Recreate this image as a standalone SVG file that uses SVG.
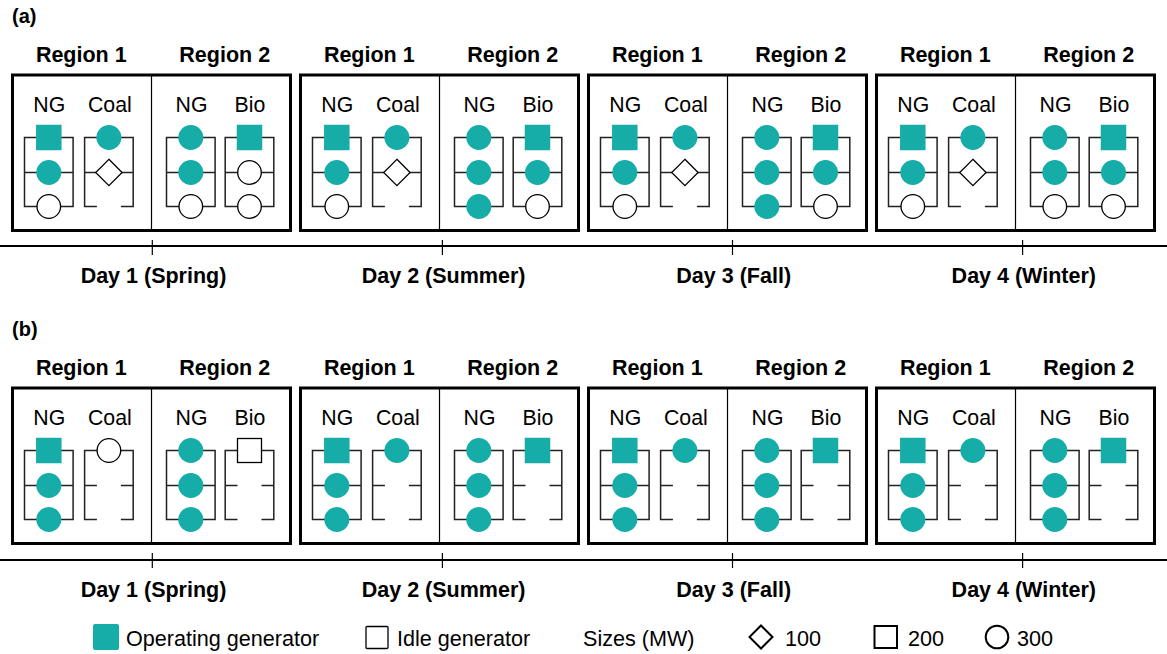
<svg xmlns="http://www.w3.org/2000/svg" width="1167" height="654" viewBox="0 0 1167 654">
<style>
text{font-family:"Liberation Sans",Arial,sans-serif;fill:#000}
.h{font-weight:bold;font-size:21.5px;text-anchor:middle}
.c{font-size:21.3px;text-anchor:middle}
.p{font-weight:bold;font-size:20px}
.l{font-size:21.6px}
.box{fill:none;stroke:#000;stroke-width:3}
.dv{stroke:#000;stroke-width:1.2}
.br{fill:none;stroke:#222;stroke-width:1.5}
.on{fill:#16aca8}
.off{fill:#fff;stroke:#000;stroke-width:1.3}
.tl{stroke:#000;stroke-width:2}
.tk{stroke:#000;stroke-width:1.2}
.lg{fill:#fff;stroke:#000;stroke-width:2}
</style>
<defs>
<path id="cf" d="M-24.3 206.5V137.5H24.3V206.5ZM-24.3 172.5H24.3"/>
<path id="ca" d="M-12 206.5H-24.3V137.5H24.3V206.5H12M-24.3 172.5H24.3"/>
<path id="cb" d="M-12 206.5H-24.3V137.5H24.3V206.5H12M-24.3 172.5H-12M12 172.5H24.3"/>
<rect id="sq" x="-12.75" y="-12.75" width="25.5" height="25.5"/>
<rect id="sqo" x="-12" y="-12" width="24" height="24"/>
<circle id="ci" r="12.5"/>
<circle id="co" r="11.8"/>
<polygon id="di" points="0,-13.2 13.2,0 0,13.2 -13.2,0"/>
</defs>

<rect width="1167" height="654" fill="#fff"/>

<!-- ===== Panel (a) ===== -->
<g id="panel-a">
<text class="p" x="12" y="22.5">(a)</text>

<g id="a-day1" transform="translate(12.5,0)">
<text class="h" x="68.8" y="62.3">Region 1</text><text class="h" x="212.2" y="62.3">Region 2</text>
<rect class="box" x="0" y="75" width="278" height="155.5"/><line class="dv" x1="139" y1="75" x2="139" y2="230.5"/>
<g id="a-d1-ng1" transform="translate(36.3,0)"><text class="c" x="0.5" y="111.7">NG</text><use href="#cf" class="br"/><use href="#sq" class="on" y="137.5"/><use href="#ci" class="on" y="172.5"/><use href="#co" class="off" y="206.5"/></g>
<g id="a-d1-coal" transform="translate(96.4,0)"><text class="c" x="1" y="111.7">Coal</text><use href="#ca" class="br"/><use href="#ci" class="on" y="137.5"/><use href="#di" class="off" y="172.5"/></g>
<g id="a-d1-ng2" transform="translate(178.3,0)"><text class="c" x="0.7" y="111.7">NG</text><use href="#cf" class="br"/><use href="#ci" class="on" y="137.5"/><use href="#ci" class="on" y="172.5"/><use href="#co" class="off" y="206.5"/></g>
<g id="a-d1-bio" transform="translate(237,0)"><text class="c" x="0.5" y="111.7">Bio</text><use href="#cf" class="br"/><use href="#sq" class="on" y="137.5"/><use href="#co" class="off" y="172.5"/><use href="#co" class="off" y="206.5"/></g>
</g>

<g id="a-day2" transform="translate(300.5,0)">
<text class="h" x="68.8" y="62.3">Region 1</text><text class="h" x="212.2" y="62.3">Region 2</text>
<rect class="box" x="0" y="75" width="278" height="155.5"/><line class="dv" x1="139" y1="75" x2="139" y2="230.5"/>
<g id="a-d2-ng1" transform="translate(36.3,0)"><text class="c" x="0.5" y="111.7">NG</text><use href="#cf" class="br"/><use href="#sq" class="on" y="137.5"/><use href="#ci" class="on" y="172.5"/><use href="#co" class="off" y="206.5"/></g>
<g id="a-d2-coal" transform="translate(96.4,0)"><text class="c" x="1" y="111.7">Coal</text><use href="#ca" class="br"/><use href="#ci" class="on" y="137.5"/><use href="#di" class="off" y="172.5"/></g>
<g id="a-d2-ng2" transform="translate(178.3,0)"><text class="c" x="0.7" y="111.7">NG</text><use href="#cf" class="br"/><use href="#ci" class="on" y="137.5"/><use href="#ci" class="on" y="172.5"/><use href="#ci" class="on" y="206.5"/></g>
<g id="a-d2-bio" transform="translate(237,0)"><text class="c" x="0.5" y="111.7">Bio</text><use href="#cf" class="br"/><use href="#sq" class="on" y="137.5"/><use href="#ci" class="on" y="172.5"/><use href="#co" class="off" y="206.5"/></g>
</g>

<g id="a-day3" transform="translate(588.5,0)">
<text class="h" x="68.8" y="62.3">Region 1</text><text class="h" x="212.2" y="62.3">Region 2</text>
<rect class="box" x="0" y="75" width="278" height="155.5"/><line class="dv" x1="139" y1="75" x2="139" y2="230.5"/>
<g id="a-d3-ng1" transform="translate(36.3,0)"><text class="c" x="0.5" y="111.7">NG</text><use href="#cf" class="br"/><use href="#sq" class="on" y="137.5"/><use href="#ci" class="on" y="172.5"/><use href="#co" class="off" y="206.5"/></g>
<g id="a-d3-coal" transform="translate(96.4,0)"><text class="c" x="1" y="111.7">Coal</text><use href="#ca" class="br"/><use href="#ci" class="on" y="137.5"/><use href="#di" class="off" y="172.5"/></g>
<g id="a-d3-ng2" transform="translate(178.3,0)"><text class="c" x="0.7" y="111.7">NG</text><use href="#cf" class="br"/><use href="#ci" class="on" y="137.5"/><use href="#ci" class="on" y="172.5"/><use href="#ci" class="on" y="206.5"/></g>
<g id="a-d3-bio" transform="translate(237,0)"><text class="c" x="0.5" y="111.7">Bio</text><use href="#cf" class="br"/><use href="#sq" class="on" y="137.5"/><use href="#ci" class="on" y="172.5"/><use href="#co" class="off" y="206.5"/></g>
</g>

<g id="a-day4" transform="translate(876.5,0)">
<text class="h" x="68.8" y="62.3">Region 1</text><text class="h" x="212.2" y="62.3">Region 2</text>
<rect class="box" x="0" y="75" width="278" height="155.5"/><line class="dv" x1="139" y1="75" x2="139" y2="230.5"/>
<g id="a-d4-ng1" transform="translate(36.3,0)"><text class="c" x="0.5" y="111.7">NG</text><use href="#cf" class="br"/><use href="#sq" class="on" y="137.5"/><use href="#ci" class="on" y="172.5"/><use href="#co" class="off" y="206.5"/></g>
<g id="a-d4-coal" transform="translate(96.4,0)"><text class="c" x="1" y="111.7">Coal</text><use href="#ca" class="br"/><use href="#ci" class="on" y="137.5"/><use href="#di" class="off" y="172.5"/></g>
<g id="a-d4-ng2" transform="translate(178.3,0)"><text class="c" x="0.7" y="111.7">NG</text><use href="#cf" class="br"/><use href="#ci" class="on" y="137.5"/><use href="#ci" class="on" y="172.5"/><use href="#co" class="off" y="206.5"/></g>
<g id="a-d4-bio" transform="translate(237,0)"><text class="c" x="0.5" y="111.7">Bio</text><use href="#cf" class="br"/><use href="#sq" class="on" y="137.5"/><use href="#ci" class="on" y="172.5"/><use href="#co" class="off" y="206.5"/></g>
</g>

<g id="a-timeline">
<line class="tl" x1="0" y1="246" x2="1167" y2="246"/>
<line class="tk" x1="152.3" y1="240" x2="152.3" y2="255"/>
<line class="tk" x1="442.4" y1="240" x2="442.4" y2="255"/>
<line class="tk" x1="732.5" y1="240" x2="732.5" y2="255"/>
<line class="tk" x1="1022.6" y1="240" x2="1022.6" y2="255"/>
<text class="h" x="153.5" y="283.3">Day 1 (Spring)</text>
<text class="h" x="443.6" y="283.3">Day 2 (Summer)</text>
<text class="h" x="733.7" y="283.3">Day 3 (Fall)</text>
<text class="h" x="1023.8" y="283.3">Day 4 (Winter)</text>
</g>
</g>

<!-- ===== Panel (b) ===== -->
<g id="panel-b" transform="translate(0,313)">
<text class="p" x="12" y="22.5">(b)</text>

<g id="b-day1" transform="translate(12.5,0)">
<text class="h" x="68.8" y="62.3">Region 1</text><text class="h" x="212.2" y="62.3">Region 2</text>
<rect class="box" x="0" y="75" width="278" height="155.5"/><line class="dv" x1="139" y1="75" x2="139" y2="230.5"/>
<g id="b-d1-ng1" transform="translate(36.3,0)"><text class="c" x="0.5" y="111.7">NG</text><use href="#cf" class="br"/><use href="#sq" class="on" y="137.5"/><use href="#ci" class="on" y="172.5"/><use href="#ci" class="on" y="206.5"/></g>
<g id="b-d1-coal" transform="translate(96.4,0)"><text class="c" x="1" y="111.7">Coal</text><use href="#cb" class="br"/><use href="#co" class="off" y="137.5"/></g>
<g id="b-d1-ng2" transform="translate(178.3,0)"><text class="c" x="0.7" y="111.7">NG</text><use href="#cf" class="br"/><use href="#ci" class="on" y="137.5"/><use href="#ci" class="on" y="172.5"/><use href="#ci" class="on" y="206.5"/></g>
<g id="b-d1-bio" transform="translate(237,0)"><text class="c" x="0.5" y="111.7">Bio</text><use href="#cb" class="br"/><use href="#sqo" class="off" y="137.5"/></g>
</g>

<g id="b-day2" transform="translate(300.5,0)">
<text class="h" x="68.8" y="62.3">Region 1</text><text class="h" x="212.2" y="62.3">Region 2</text>
<rect class="box" x="0" y="75" width="278" height="155.5"/><line class="dv" x1="139" y1="75" x2="139" y2="230.5"/>
<g id="b-d2-ng1" transform="translate(36.3,0)"><text class="c" x="0.5" y="111.7">NG</text><use href="#cf" class="br"/><use href="#sq" class="on" y="137.5"/><use href="#ci" class="on" y="172.5"/><use href="#ci" class="on" y="206.5"/></g>
<g id="b-d2-coal" transform="translate(96.4,0)"><text class="c" x="1" y="111.7">Coal</text><use href="#cb" class="br"/><use href="#ci" class="on" y="137.5"/></g>
<g id="b-d2-ng2" transform="translate(178.3,0)"><text class="c" x="0.7" y="111.7">NG</text><use href="#cf" class="br"/><use href="#ci" class="on" y="137.5"/><use href="#ci" class="on" y="172.5"/><use href="#ci" class="on" y="206.5"/></g>
<g id="b-d2-bio" transform="translate(237,0)"><text class="c" x="0.5" y="111.7">Bio</text><use href="#cb" class="br"/><use href="#sq" class="on" y="137.5"/></g>
</g>

<g id="b-day3" transform="translate(588.5,0)">
<text class="h" x="68.8" y="62.3">Region 1</text><text class="h" x="212.2" y="62.3">Region 2</text>
<rect class="box" x="0" y="75" width="278" height="155.5"/><line class="dv" x1="139" y1="75" x2="139" y2="230.5"/>
<g id="b-d3-ng1" transform="translate(36.3,0)"><text class="c" x="0.5" y="111.7">NG</text><use href="#cf" class="br"/><use href="#sq" class="on" y="137.5"/><use href="#ci" class="on" y="172.5"/><use href="#ci" class="on" y="206.5"/></g>
<g id="b-d3-coal" transform="translate(96.4,0)"><text class="c" x="1" y="111.7">Coal</text><use href="#cb" class="br"/><use href="#ci" class="on" y="137.5"/></g>
<g id="b-d3-ng2" transform="translate(178.3,0)"><text class="c" x="0.7" y="111.7">NG</text><use href="#cf" class="br"/><use href="#ci" class="on" y="137.5"/><use href="#ci" class="on" y="172.5"/><use href="#ci" class="on" y="206.5"/></g>
<g id="b-d3-bio" transform="translate(237,0)"><text class="c" x="0.5" y="111.7">Bio</text><use href="#cb" class="br"/><use href="#sq" class="on" y="137.5"/></g>
</g>

<g id="b-day4" transform="translate(876.5,0)">
<text class="h" x="68.8" y="62.3">Region 1</text><text class="h" x="212.2" y="62.3">Region 2</text>
<rect class="box" x="0" y="75" width="278" height="155.5"/><line class="dv" x1="139" y1="75" x2="139" y2="230.5"/>
<g id="b-d4-ng1" transform="translate(36.3,0)"><text class="c" x="0.5" y="111.7">NG</text><use href="#cf" class="br"/><use href="#sq" class="on" y="137.5"/><use href="#ci" class="on" y="172.5"/><use href="#ci" class="on" y="206.5"/></g>
<g id="b-d4-coal" transform="translate(96.4,0)"><text class="c" x="1" y="111.7">Coal</text><use href="#cb" class="br"/><use href="#ci" class="on" y="137.5"/></g>
<g id="b-d4-ng2" transform="translate(178.3,0)"><text class="c" x="0.7" y="111.7">NG</text><use href="#cf" class="br"/><use href="#ci" class="on" y="137.5"/><use href="#ci" class="on" y="172.5"/><use href="#ci" class="on" y="206.5"/></g>
<g id="b-d4-bio" transform="translate(237,0)"><text class="c" x="0.5" y="111.7">Bio</text><use href="#cb" class="br"/><use href="#sq" class="on" y="137.5"/></g>
</g>

<g id="b-timeline">
<line class="tl" x1="0" y1="247" x2="1167" y2="247"/>
<line class="tk" x1="152.3" y1="240" x2="152.3" y2="255"/>
<line class="tk" x1="442.4" y1="240" x2="442.4" y2="255"/>
<line class="tk" x1="732.5" y1="240" x2="732.5" y2="255"/>
<line class="tk" x1="1022.6" y1="240" x2="1022.6" y2="255"/>
<text class="h" x="153.5" y="284.3">Day 1 (Spring)</text>
<text class="h" x="443.6" y="284.3">Day 2 (Summer)</text>
<text class="h" x="733.7" y="284.3">Day 3 (Fall)</text>
<text class="h" x="1023.8" y="284.3">Day 4 (Winter)</text>
</g>
</g>

<!-- ===== Legend ===== -->
<g id="legend">
<rect x="93" y="624" width="26" height="26" rx="2" class="on"/>
<text class="l" x="126" y="646">Operating generator</text>
<rect x="366" y="626.5" width="22" height="22" rx="1" class="off"/>
<text class="l" x="397" y="646">Idle generator</text>
<text class="l" x="583" y="646">Sizes (MW)</text>
<polygon class="lg" points="761,625.5 772.5,637 761,648.5 749.5,637"/>
<text class="l" x="785" y="646">100</text>
<rect class="lg" x="874.5" y="626" width="22.5" height="22"/>
<text class="l" x="908" y="646">200</text>
<circle class="lg" cx="997" cy="637" r="11.3"/>
<text class="l" x="1017" y="646">300</text>
</g>
</svg>
